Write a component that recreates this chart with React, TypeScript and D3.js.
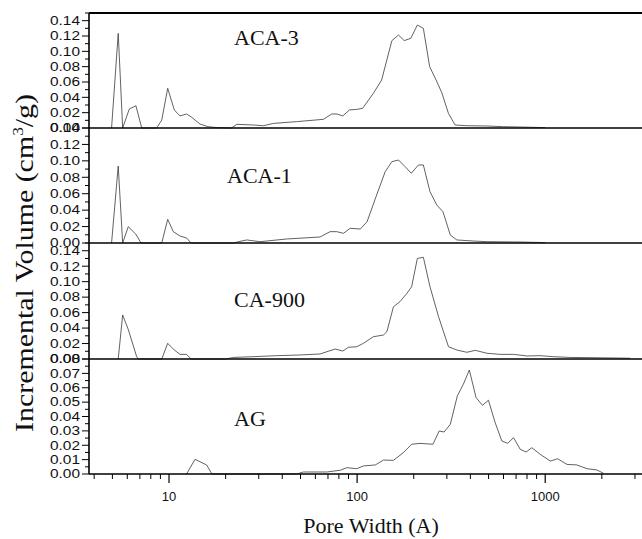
import React from "react";
import * as d3 from "d3";

// ---- data (pore width in Å, incremental volume in cm3/g) ----
const panelNames = ["ACA-3", "ACA-1", "CA-900", "AG"];

const aca3X = [4.95, 5.37, 5.67, 6.15, 6.67, 7.16, 8.6, 9.15, 9.84, 10.67, 11.44, 12.4, 13.2, 14.6, 16.1, 18, 21.5, 22.9, 28.1, 31.8, 35.9, 47.7, 66.2, 73.3, 78, 83.9, 91, 99.6, 107, 122, 135, 153, 166, 178, 193, 209, 225, 243, 263, 282, 306, 332, 383, 490, 600, 736, 1000];
const aca3Y = [0, 0.1235, 0, 0.0248, 0.029, 0, 0, 0.0104, 0.0518, 0.0235, 0.0157, 0.0183, 0.014, 0.0052, 0.0017, 0.0005, 0, 0.0048, 0.0039, 0.003, 0.006, 0.0083, 0.0113, 0.0183, 0.0183, 0.0157, 0.0235, 0.0243, 0.0257, 0.0452, 0.0626, 0.1139, 0.1213, 0.114, 0.117, 0.1343, 0.13, 0.08, 0.0626, 0.046, 0.019, 0.0039, 0.003, 0.0026, 0.0017, 0.0013, 0.0005];

const aca1X = [4.95, 5.37, 5.67, 6.07, 6.65, 7.1, 9.15, 9.84, 10.54, 11.44, 12.4, 13.1, 22, 23.4, 25.9, 30.5, 42.3, 63.5, 71.8, 78, 84.6, 91.8, 104, 113, 127, 141, 153, 166, 180, 194, 212, 225, 244, 265, 286, 313, 339, 416, 490, 736, 1000];
const aca1Y = [0, 0.0937, 0, 0.0198, 0.011, 0, 0, 0.0288, 0.0138, 0.0085, 0.0061, 0, 0, 0.0016, 0.0037, 0.0016, 0.0049, 0.0073, 0.0138, 0.0138, 0.0118, 0.0179, 0.017, 0.026, 0.0584, 0.0868, 0.099, 0.101, 0.0929, 0.0849, 0.095, 0.095, 0.0625, 0.0463, 0.0381, 0.0097, 0.0037, 0.0024, 0.0016, 0.0012, 0.0005];

const ca900X = [5.37, 5.67, 6.07, 6.73, 6.87, 9.15, 9.84, 10.67, 11.44, 12.4, 13.1, 20, 22, 28.1, 37.4, 49.8, 63.5, 76.4, 83.9, 89.9, 99.6, 108, 122, 138, 144, 156, 169, 184, 195, 209, 225, 244, 271, 306, 339, 383, 425, 490, 576, 679, 800, 940, 1106, 1358, 2042, 2830];
const ca900Y = [0, 0.0569, 0.0384, 0.003, 0, 0, 0.0203, 0.0116, 0.006, 0.006, 0, 0, 0.002, 0.003, 0.0043, 0.0052, 0.0065, 0.0129, 0.0103, 0.0151, 0.0159, 0.0203, 0.0288, 0.031, 0.0353, 0.0676, 0.0741, 0.085, 0.0935, 0.13, 0.1315, 0.0935, 0.0547, 0.0159, 0.0116, 0.0087, 0.0112, 0.0074, 0.006, 0.006, 0.0039, 0.0043, 0.003, 0.002, 0.0015, 0.001];

const agX = [12.4, 13.75, 15.85, 16.9, 47.7, 51.8, 69, 81.3, 88.2, 99.6, 108, 125, 138, 156, 176, 195, 216, 253, 273, 290, 313, 341, 367, 395, 429, 464, 499, 542, 588, 631, 679, 736, 792, 849, 940, 1064, 1164, 1304, 1473, 1666, 1883, 2042];
const agY = [0, 0.0102, 0.0063, 0, 0, 0.0014, 0.0014, 0.0026, 0.0044, 0.0037, 0.0056, 0.0063, 0.0097, 0.0095, 0.0148, 0.0207, 0.0213, 0.0207, 0.0299, 0.0292, 0.0346, 0.0543, 0.0624, 0.0723, 0.0531, 0.0478, 0.0513, 0.0357, 0.023, 0.0213, 0.0253, 0.0172, 0.0153, 0.0183, 0.0137, 0.009, 0.0106, 0.0067, 0.0063, 0.0037, 0.0028, 0.0005];

const seriesX = [aca3X, aca1X, ca900X, agX];
const seriesY = [aca3Y, aca1Y, ca900Y, agY];

const yMaxes = [0.15, 0.14, 0.15, 0.08];
const yMajorSteps = [0.02, 0.02, 0.02, 0.01];
const yMajorMax = [0.14, 0.14, 0.14, 0.08];

const xMajorTicks = [10, 100, 1000];
const xMinorTicks = [4, 5, 6, 7, 8, 9, 20, 30, 40, 50, 60, 70, 80, 90, 200, 300, 400, 500, 600, 700, 800, 900, 2000, 3000];

// ---- layout ----
const W = 642;
const H = 539;
const left = 89;
const right = 642;
const panelTops = [13, 128, 243, 359];
const panelBottoms = [128, 243, 359, 474];
const labelPos = [
  { x: 234, y: 45 },
  { x: 227, y: 183 },
  { x: 234, y: 307 },
  { x: 234, y: 426 },
];

const x = d3.scaleLog().domain([3.755, 3270]).range([left, right]);
const fmt = d3.format(".2f");

function range(step: number, max: number) {
  const n = Math.round(max / step);
  return d3.range(n + 1).map((i) => +(i * step).toFixed(4));
}

export default function App() {
  const lineColor = "#3a3a3a";
  return (
    <div style={{ position: "absolute", left: 0, top: 0 }}>
      <svg width={W} height={H} style={{ display: "block", background: "#fff" }}>
        {panelNames.map((name, i) => {
          const y = d3.scaleLinear().domain([0, yMaxes[i]]).range([panelBottoms[i], panelTops[i]]);
          const majors = range(yMajorSteps[i], yMajorMax[i]);
          const minors = range(yMajorSteps[i] / 2, yMaxes[i]).filter(
            (v) => !majors.some((m) => Math.abs(m - v) < 1e-6) && v <= yMaxes[i] + 1e-9
          );
          const pts: [number, number][] = seriesX[i].map((xv, k) => [xv, seriesY[i][k]]);
          const line = d3
            .line<[number, number]>()
            .x((d) => x(d[0]))
            .y((d) => y(d[1]));
          return (
            <g key={name}>
              <path d={line(pts) || ""} fill="none" stroke={lineColor} strokeWidth={0.8} />
              {majors.map((v) => (
                <g key={"M" + v}>
                  <line x1={left - 7} x2={left} y1={y(v)} y2={y(v)} stroke="#000" strokeWidth={1} />
                  <text
                    x={80}
                    y={y(v)}
                    dy="0.36em"
                    textAnchor="end"
                    fontFamily="Liberation Sans, Arial, sans-serif"
                    fontSize={12}
                    textLength={30}
                    lengthAdjust="spacingAndGlyphs"
                    fill="#111"
                  >
                    {fmt(v)}
                  </text>
                </g>
              ))}
              {minors.map((v) => (
                <line key={"m" + v} x1={left - 4} x2={left} y1={y(v)} y2={y(v)} stroke="#000" strokeWidth={1} />
              ))}
              <text
                x={labelPos[i].x}
                y={labelPos[i].y}
                fontFamily="Liberation Serif, Times New Roman, serif"
                fontSize={22}
                fill="#111"
              >
                {name}
              </text>
              <line x1={left} x2={right} y1={panelBottoms[i]} y2={panelBottoms[i]} stroke="#000" strokeWidth={1.6} />
            </g>
          );
        })}
        {/* top border and left axis */}
        <line x1={left} x2={right} y1={panelTops[0]} y2={panelTops[0]} stroke="#000" strokeWidth={1.8} />
        <line x1={left} x2={left} y1={panelTops[0]} y2={panelBottoms[3]} stroke="#000" strokeWidth={1.6} />
        {/* x ticks */}
        {xMajorTicks.map((t) => (
          <g key={"xt" + t}>
            <line x1={x(t)} x2={x(t)} y1={474} y2={483} stroke="#000" strokeWidth={1.2} />
            <text
              x={x(t)}
              y={501}
              textAnchor="middle"
              fontFamily="Liberation Sans, Arial, sans-serif"
              fontSize={13}
              fill="#111"
            >
              {t}
            </text>
          </g>
        ))}
        {xMinorTicks.map((t) => (
          <line key={"xm" + t} x1={x(t)} x2={x(t)} y1={474} y2={479} stroke="#000" strokeWidth={1} />
        ))}
        {/* axis titles */}
        <text
          x={371}
          y={533}
          textAnchor="middle"
          fontFamily="Liberation Serif, Times New Roman, serif"
          fontSize={22}
          fill="#111"
        >
          Pore Width (A)
        </text>
        <text
          transform="translate(33,432) rotate(-90)"
          x={0}
          y={0}
          textAnchor="start"
          fontFamily="Liberation Serif, Times New Roman, serif"
          fontSize={26}
          textLength={338}
          lengthAdjust="spacingAndGlyphs"
          fill="#111"
        >
          Incremental Volume (cm
          <tspan fontSize={15} dy={-10}>3</tspan>
          <tspan dy={10}>/g)</tspan>
        </text>
      </svg>
    </div>
  );
}
